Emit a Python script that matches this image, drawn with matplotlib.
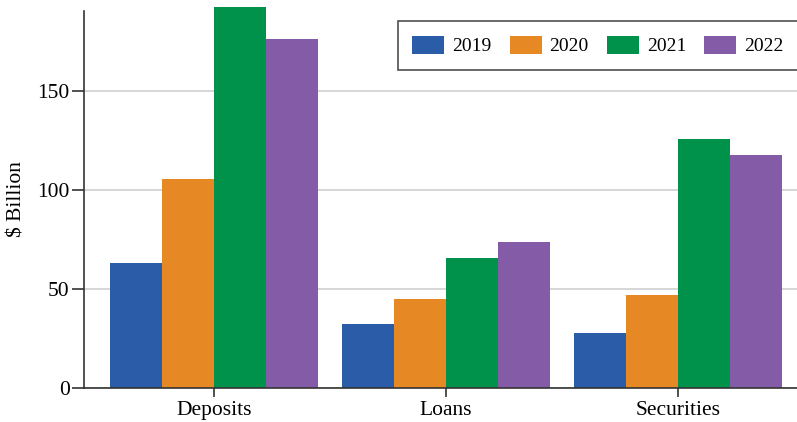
import numpy as np
import matplotlib.pyplot as plt

categories = ["Deposits", "Loans", "Securities"]
years = ["2019", "2020", "2021", "2022"]
vals_2019 = [63.2, 32.3, 27.8]
vals_2020 = [105.6, 45.0, 47.0]
vals_2021 = [192.4, 65.7, 125.8]
vals_2022 = [176.3, 73.7, 117.7]
colors = ["#2b5ca8", "#e68823", "#00924a", "#835ba6"]

plt.rcParams["font.family"] = ["Liberation Serif", "DejaVu Serif"]

fig = plt.figure(figsize=(7.97, 4.22), dpi=100)
ax = fig.add_axes([0.1054, 0.0806, 0.8946, 0.8945])

x = np.arange(len(categories))
width = 0.225
series = [vals_2019, vals_2020, vals_2021, vals_2022]
for i, (yr, vals, c) in enumerate(zip(years, series, colors)):
    bars = ax.bar(x + (i - 1.5) * width, vals, width, color=c, label=yr, zorder=2)
    for b in bars:
        b.set_clip_on(False)

ax.set_xlim(-0.56, 2.513)
ax.set_ylim(0, 190.7)
ax.set_yticks([0, 50, 100, 150])
ax.set_xticks(x)
ax.set_xticklabels(categories)
ax.yaxis.grid(True, color="#d0d0d0", lw=1.2, zorder=0)
ax.set_axisbelow(True)

for s in ["top", "right"]:
    ax.spines[s].set_visible(False)
for s in ["left", "bottom"]:
    ax.spines[s].set_color("#333333")
    ax.spines[s].set_linewidth(1.2)

ax.tick_params(axis="y", length=8.4, width=1.2, color="#333333", labelsize=15.5, pad=2)
ax.tick_params(axis="x", length=6.5, width=1.2, color="#333333", labelsize=15.5, pad=3)
ax.set_ylabel(r"\$ Billion", fontsize=15.5, labelpad=8)

leg = ax.legend(ncol=4, loc="upper right", bbox_to_anchor=(1.002, 0.972), fontsize=14,
                frameon=True, fancybox=False, edgecolor="#222222",
                handlelength=1.65, handleheight=1.05, columnspacing=0.93,
                handletextpad=0.41, borderpad=0.75, borderaxespad=0)
leg.get_frame().set_linewidth(1.2)

fig.savefig("out.png", dpi=100)
